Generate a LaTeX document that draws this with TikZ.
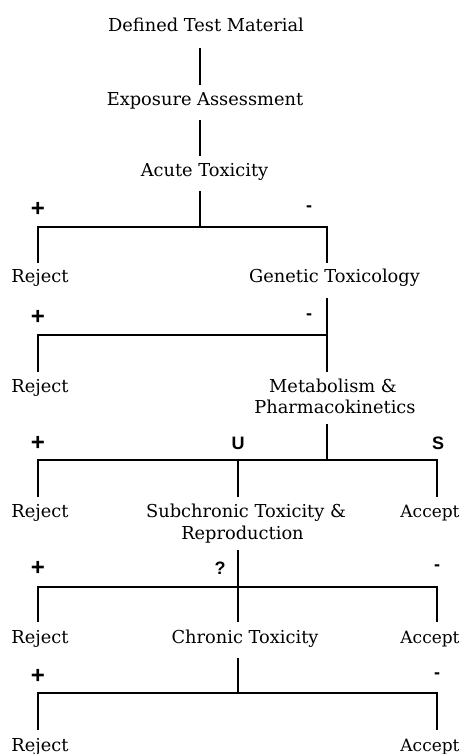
\documentclass[tikz,border=0pt]{standalone}
\usepackage{fontspec}
\setmainfont{DejaVu Serif}
\setsansfont{Liberation Sans}
\usetikzlibrary{calc}
\tikzset{
  lbl/.style={anchor=base, inner sep=0pt, font=\fontsize{17.8}{20}\selectfont},
  acc/.style={lbl, font=\fontsize{17}{20}\selectfont},
  sym/.style={inner sep=0pt, font=\sffamily\bfseries\fontsize{18}{20}\selectfont},
  plus/.style={inner sep=0pt, font=\sffamily\bfseries\fontsize{24}{26}\selectfont},
  ln/.style={line width=1.4pt, line cap=butt},
}
\begin{document}
\begin{tikzpicture}[x=1pt,y=-1pt]
\useasboundingbox (0,0) rectangle (471,754);
% text nodes
\node[lbl] (dtm) at (206,32) {Defined Test Material};
\node[lbl] (ea) at (205,106) {Exposure Assessment};
\node[lbl] (at) at (204.5,177) {Acute Toxicity};
\node[lbl] (r1) at (40,282) {Reject};
\node[lbl] (gt) at (334.5,282) {Genetic Toxicology};
\node[lbl] (r2) at (40,392) {Reject};
\node[lbl] (mp1) at (333,392) {Metabolism \&};
\node[lbl] (mp2) at (335,413) {Pharmacokinetics};
\node[lbl] (r3) at (40,517) {Reject};
\node[lbl] (sc1) at (246,517) {Subchronic Toxicity \&};
\node[lbl] (sc2) at (242.5,539) {Reproduction};
\node[acc] (a3) at (430,517) {Accept};
\node[lbl] (r4) at (40,643) {Reject};
\node[lbl] (ct) at (245,643) {Chronic Toxicity};
\node[acc] (a4) at (430,643) {Accept};
\node[lbl] (r5) at (40,751) {Reject};
\node[acc] (a5) at (430,751) {Accept};
% junctions
\coordinate (j1) at (200,227);
\coordinate (j1l) at (38,227);
\coordinate (j1r) at (327,227);
\coordinate (j2) at (327,335);
\coordinate (j2l) at (38,335);
\coordinate (j3) at (327,460);
\coordinate (j3l) at (38,460);
\coordinate (j3m) at (238,460);
\coordinate (j3r) at (437,460);
\coordinate (j4) at (238,587);
\coordinate (j4l) at (38,587);
\coordinate (j4r) at (437,587);
\coordinate (j5) at (238,693);
\coordinate (j5l) at (38,693);
\coordinate (j5r) at (437,693);
% symbols
\node[plus] (p1) at (38,209) {+};
\node[sym] (m1) at (309,209) {-};
\node[plus] (p2) at (38,317) {+};
\node[sym] (m2) at (309,317) {-};
\node[plus] (p3) at (38,443) {+};
\node[sym] (u3) at (238,443) {U};
\node[sym] (s3) at (438,443) {S};
\node[plus] (p4) at (38,568) {+};
\node[sym] (q4) at (220,568) {?};
\node[sym] (m4) at (437,568) {-};
\node[plus] (p5) at (38,676) {+};
\node[sym] (m5) at (437,676) {-};
% connectors
\draw[ln] ($(dtm.base -| j1)+(0,16)$) -- ($(ea.base -| j1)+(0,-21)$);
\draw[ln] ($(ea.base -| j1)+(0,14)$) -- ($(at.base -| j1)+(0,-21)$);
\draw[ln] ($(at.base -| j1)+(0,14)$) -- (j1);
\draw[ln] ($(r1.base -| j1l)+(0,-19)$) -- (j1l) -- (j1r) -- ($(gt.base -| j1r)+(0,-19)$);
\draw[ln] ($(gt.base -| j2)+(0,16)$) -- ($(mp1.base -| j2)+(0,-20)$);
\draw[ln] (j2) -- (j2l) -- ($(r2.base -| j2l)+(0,-20)$);
\draw[ln] ($(mp2.base -| j3)+(0,11)$) -- (j3);
\draw[ln] ($(r3.base -| j3l)+(0,-20)$) -- (j3l) -- (j3r) -- ($(a3.base -| j3r)+(0,-20)$);
\draw[ln] (j3m) -- ($(sc1.base -| j3m)+(0,-20)$);
\draw[ln] ($(sc2.base -| j4)+(0,11)$) -- ($(ct.base -| j4)+(0,-21)$);
\draw[ln] ($(r4.base -| j4l)+(0,-21)$) -- (j4l) -- (j4r) -- ($(a4.base -| j4r)+(0,-21)$);
\draw[ln] ($(ct.base -| j5)+(0,15)$) -- (j5);
\draw[ln] ($(r5.base -| j5l)+(0,-21)$) -- (j5l) -- (j5r) -- ($(a5.base -| j5r)+(0,-21)$);
\end{tikzpicture}
\end{document}
